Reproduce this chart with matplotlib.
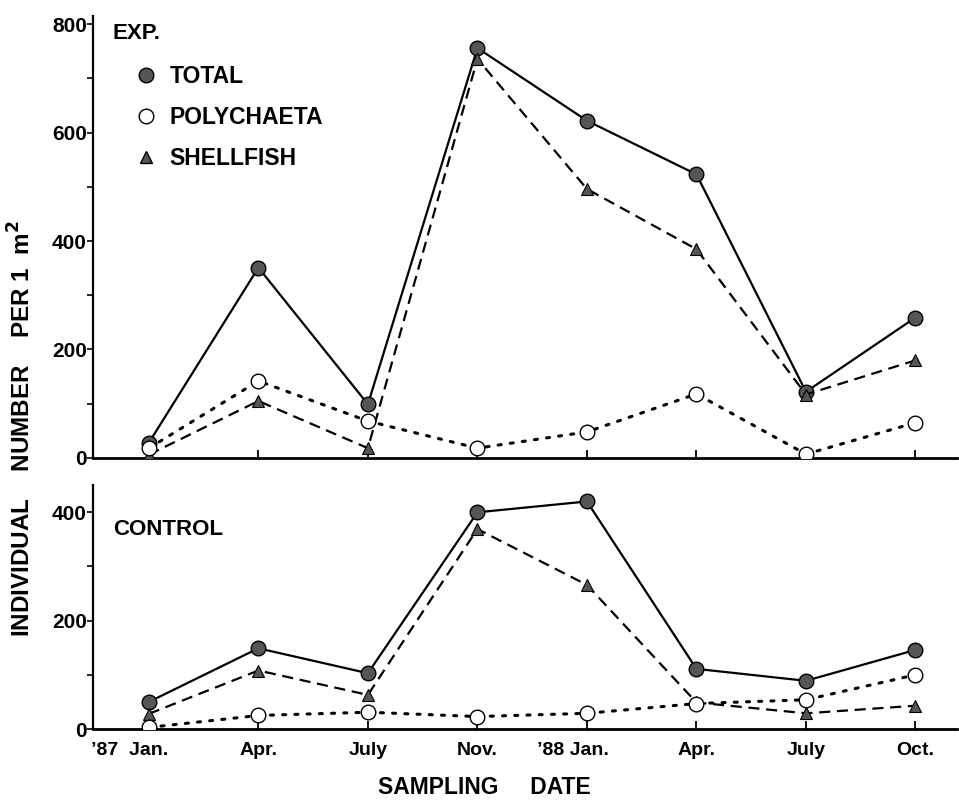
import numpy as np
import matplotlib.pyplot as plt
from matplotlib.lines import Line2D
from matplotlib.transforms import ScaledTranslation

plt.rcParams['font.family'] = ['Liberation Sans', 'DejaVu Sans']
plt.rcParams['font.weight'] = 'bold'

months = ['\u201987  Jan.', 'Apr.', 'July', 'Nov.', '\u201988 Jan.', 'Apr.', 'July', 'Oct.']
label_shift = [-19, 0, 0, 0, -14, 0, 0, 0]  # px, moves the year prefix left of tick

exp_total = [28, 351, 99, 756, 622, 523, 122, 259]
exp_poly = [18, 142, 68, 18, 48, 118, 7, 65]
exp_shell = [6, 105, 18, 736, 496, 385, 117, 180]

ctl_total = [50, 149, 103, 400, 420, 111, 89, 146]
ctl_poly = [3, 25, 31, 23, 29, 47, 54, 100]
ctl_shell = [28, 108, 63, 369, 266, 49, 29, 43]

fig = plt.figure(figsize=(9.59, 8.02), dpi=100)
ax1 = fig.add_axes([0.097, 0.429, 0.901, 0.551])
ax2 = fig.add_axes([0.097, 0.091, 0.901, 0.304])

x = np.arange(len(months))
dark = '#555555'


def draw(ax, total, poly, shell):
    ax.plot(x, total, '-', color='black', lw=1.6, marker='o', ms=10.5,
            mfc=dark, mec='black', mew=1.0, zorder=3)
    ax.plot(x, shell, '--', color='black', lw=1.6, dashes=(5, 3),
            marker='^', ms=9, mfc=dark, mec='black', mew=0.8, zorder=3)
    ax.plot(x, poly, ':', color='black', lw=2.2, dashes=(1, 3),
            dash_capstyle='round', marker='o', ms=10.5, mfc='white',
            mec='black', mew=1.0, zorder=4)
    ax.set_xlim(-0.51, 7.38)
    ax.set_xticks(x)
    ax.spines['top'].set_visible(False)
    ax.spines['right'].set_visible(False)
    ax.spines['left'].set_linewidth(1.6)
    ax.spines['bottom'].set_linewidth(2.0)
    ax.tick_params(axis='x', direction='in', length=6, width=1.3,
                   labelsize=14, pad=9)
    ax.tick_params(axis='y', which='both', direction='out', length=4,
                   width=1.2, labelsize=15, pad=0.5)


draw(ax1, exp_total, exp_poly, exp_shell)
draw(ax2, ctl_total, ctl_poly, ctl_shell)

ax1.set_ylim(0, 815)
ax1.set_yticks([0, 200, 400, 600, 800])
ax1.set_yticks(np.arange(100, 800, 200), minor=True)
ax1.set_xticklabels([])

ax2.set_ylim(0, 450)
ax2.set_yticks([0, 200, 400])
ax2.set_yticks([100, 300], minor=True)
ax2.set_xticklabels(months)
for lab, dx in zip(ax2.get_xticklabels(), label_shift):
    lab.set_transform(lab.get_transform() +
                      ScaledTranslation(dx / 100, 0, fig.dpi_scale_trans))

ax1.text(0.023, 0.96, 'EXP.', transform=ax1.transAxes, fontsize=16,
         fontweight='bold', va='center')
ax2.text(0.023, 0.82, 'CONTROL', transform=ax2.transAxes, fontsize=16,
         fontweight='bold', va='center')

handles = [
    Line2D([], [], ls='none', marker='o', ms=10.5, mfc=dark, mec='black'),
    Line2D([], [], ls='none', marker='o', ms=10.5, mfc='white', mec='black'),
    Line2D([], [], ls='none', marker='^', ms=8, mfc=dark, mec='black'),
]
ax1.legend(handles, ['TOTAL', 'POLYCHAETA', 'SHELLFISH'], loc='upper left',
           bbox_to_anchor=(0.038, 0.91), frameon=False, handlelength=1.0,
           handletextpad=0.5, labelspacing=0.78, borderaxespad=0,
           prop={'size': 16.5, 'weight': 'bold'})

fig.text(0.505, 0.004, 'SAMPLING     DATE', ha='center', va='bottom',
         fontsize=16.5, fontweight='bold')
fig.text(0.023, 0.466, 'INDIVIDUAL    NUMBER    PER 1  m$^\\mathbf{2}$',
         rotation=90, ha='center', va='center', fontsize=17.5,
         fontweight='bold')

fig.savefig('out.png', dpi=100)
